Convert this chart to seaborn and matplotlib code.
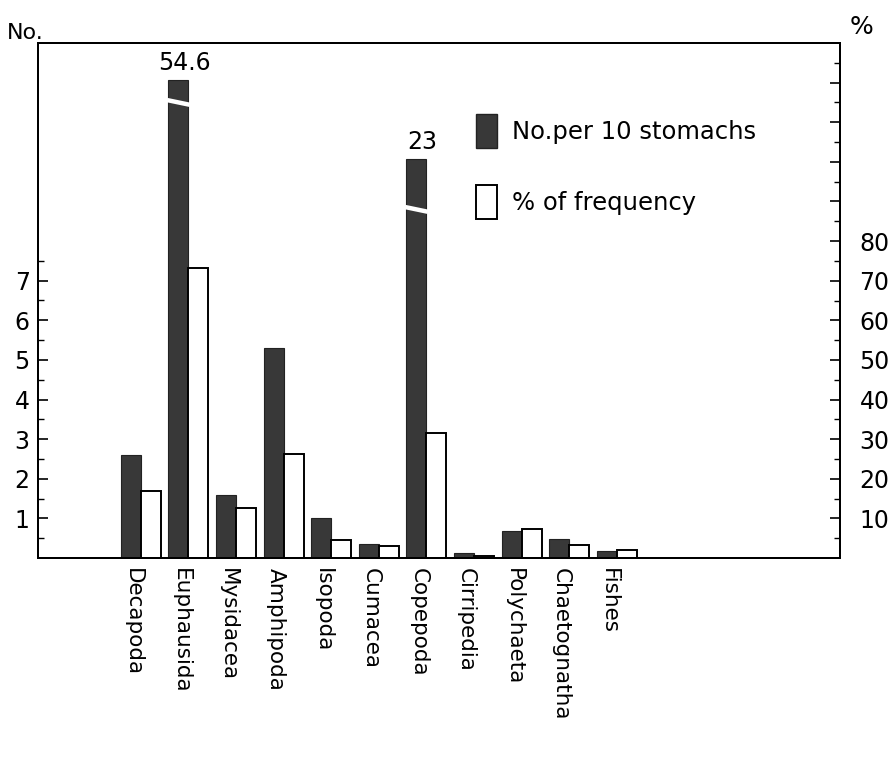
import numpy as np
import pandas as pd
import matplotlib
matplotlib.use("Agg")
import matplotlib.pyplot as plt
from matplotlib.patches import Patch
import matplotlib.transforms as mtransforms
import seaborn as sns

# ---- data ----
categories = ["Decapoda", "Euphausida", "Mysidacea", "Amphipoda", "Isopoda",
              "Cumacea", "Copepoda", "Cirripedia", "Polychaeta", "Chaetognatha", "Fishes"]
# No. per 10 stomachs (displayed heights; Euphausida and Copepoda bars are broken)
no_per_10 = [2.6, 12.07, 1.6, 5.3, 1.0, 0.35, 10.08, 0.12, 0.68, 0.48, 0.18]
# true values written above the broken bars
broken_labels = {"Euphausida": "54.6", "Copepoda": "23"}
broken_at = {"Euphausida": 11.5, "Copepoda": 8.8}
# % of frequency
pct_freq = [16.9, 73.2, 12.6, 26.3, 4.5, 3.0, 31.6, 0.5, 7.3, 3.3, 2.0]

left_ticks = [1, 2, 3, 4, 5, 6, 7]
right_ticks = [10, 20, 30, 40, 50, 60, 70, 80]
series_names = ["No.per 10 stomachs", "% of frequency"]

df_no = pd.DataFrame({"cat": categories, "val": no_per_10, "series": series_names[0]})
df_pct = pd.DataFrame({"cat": categories, "val": pct_freq, "series": series_names[1]})
df_no_full = pd.concat([df_no, df_pct.assign(val=np.nan)], ignore_index=True)
df_pct_full = pd.concat([df_no.assign(val=np.nan), df_pct], ignore_index=True)

sns.set_theme(style="white")
plt.rcParams["font.family"] = ["DejaVu Sans"]
plt.rcParams["text.color"] = "black"
plt.rcParams["xtick.color"] = "black"
plt.rcParams["ytick.color"] = "black"
plt.rcParams["axes.labelcolor"] = "black"

fig = plt.figure(figsize=(8.95, 7.77), dpi=100)
ax = fig.add_axes([38 / 895, 1 - 558 / 777, (840 - 38) / 895, (558 - 43) / 777])
ax2 = ax.twinx()

dark = "#383838"
sns.barplot(data=df_no_full, x="cat", y="val", hue="series", hue_order=series_names,
            order=categories, palette=[dark, "white"], width=0.84, dodge=True,
            saturation=1, edgecolor="#222222", linewidth=0.8, ax=ax, legend=False)
sns.barplot(data=df_pct_full, x="cat", y="val", hue="series", hue_order=series_names,
            order=categories, palette=[dark, "white"], width=0.84, dodge=True,
            saturation=1, edgecolor="black", linewidth=1.4, ax=ax2, legend=False)

ax.set_xlim(-2.16, 14.69)
ax.set_ylim(0, 13.0)
ax2.set_ylim(0, 130)

# breaks and value labels on broken bars
bars = sorted([p for p in ax.patches
               if np.isfinite(p.get_height()) and p.get_height() > 0],
              key=lambda p: p.get_x())
for name, lab in broken_labels.items():
    i = categories.index(name)
    b = bars[i]
    x0, w, h = b.get_x(), b.get_width(), b.get_height()
    yb = broken_at[name]
    ax.plot([x0 - 0.03, x0 + w + 0.03], [yb + 0.06, yb - 0.06], color="white", lw=3.2,
            solid_capstyle="butt", zorder=5)
    ax.text(x0 + w / 2 + 0.12, h + 0.12, lab, ha="center", va="bottom", fontsize=17)

# axes styling
for a in (ax, ax2):
    for s in a.spines.values():
        s.set_visible(True)
        s.set_color("black")
        s.set_linewidth(1.4)
    a.set_xlabel("")
    a.set_ylabel("")

ax.set_yticks(left_ticks)
ax.set_yticklabels([str(t) for t in left_ticks])
ax.set_yticks(np.arange(0.5, 8.0, 1.0), minor=True)
ax.tick_params(axis="y", which="major", direction="in", length=7, width=1.2,
               labelsize=17, pad=6, left=True)
ax.tick_params(axis="y", which="minor", direction="in", length=4, width=1.0, left=True)

major_r = list(range(10, 130, 10))
ax2.set_yticks(major_r)
ax2.set_yticklabels([str(t) if t in right_ticks else "" for t in major_r])
ax2.set_yticks(np.arange(5, 130, 10), minor=True)
ax2.tick_params(axis="y", which="major", direction="in", length=7, width=1.2,
                labelsize=17, pad=14, right=True)
ax2.tick_params(axis="y", which="minor", direction="in", length=4, width=1.0, right=True)

ax.set_xticks(range(len(categories)))
ax.set_xticklabels(categories, rotation=270, fontsize=15.5, va="top", ha="center")
ax.tick_params(axis="x", length=0, pad=7)
offset = mtransforms.ScaledTranslation(-8 / 100, 0, fig.dpi_scale_trans)
for lbl in ax.get_xticklabels():
    lbl.set_transform(lbl.get_transform() + offset)

# legend
handles = [Patch(facecolor=dark, edgecolor="#222222"),
           Patch(facecolor="white", edgecolor="black", linewidth=1.4)]
ax2.legend(handles, series_names, loc="upper left", bbox_to_anchor=(0.546, 0.862),
           frameon=False, fontsize=17.5, handlelength=0.88, handleheight=1.75,
           handletextpad=0.6, labelspacing=1.55, borderpad=0, borderaxespad=0)

fig.text(25 / 895, 1 - 33 / 777, "No.", ha="center", va="center", fontsize=16)
fig.text(862 / 895, 1 - 27 / 777, "%", ha="center", va="center", fontsize=18)

fig.savefig("out.png", dpi=100)
